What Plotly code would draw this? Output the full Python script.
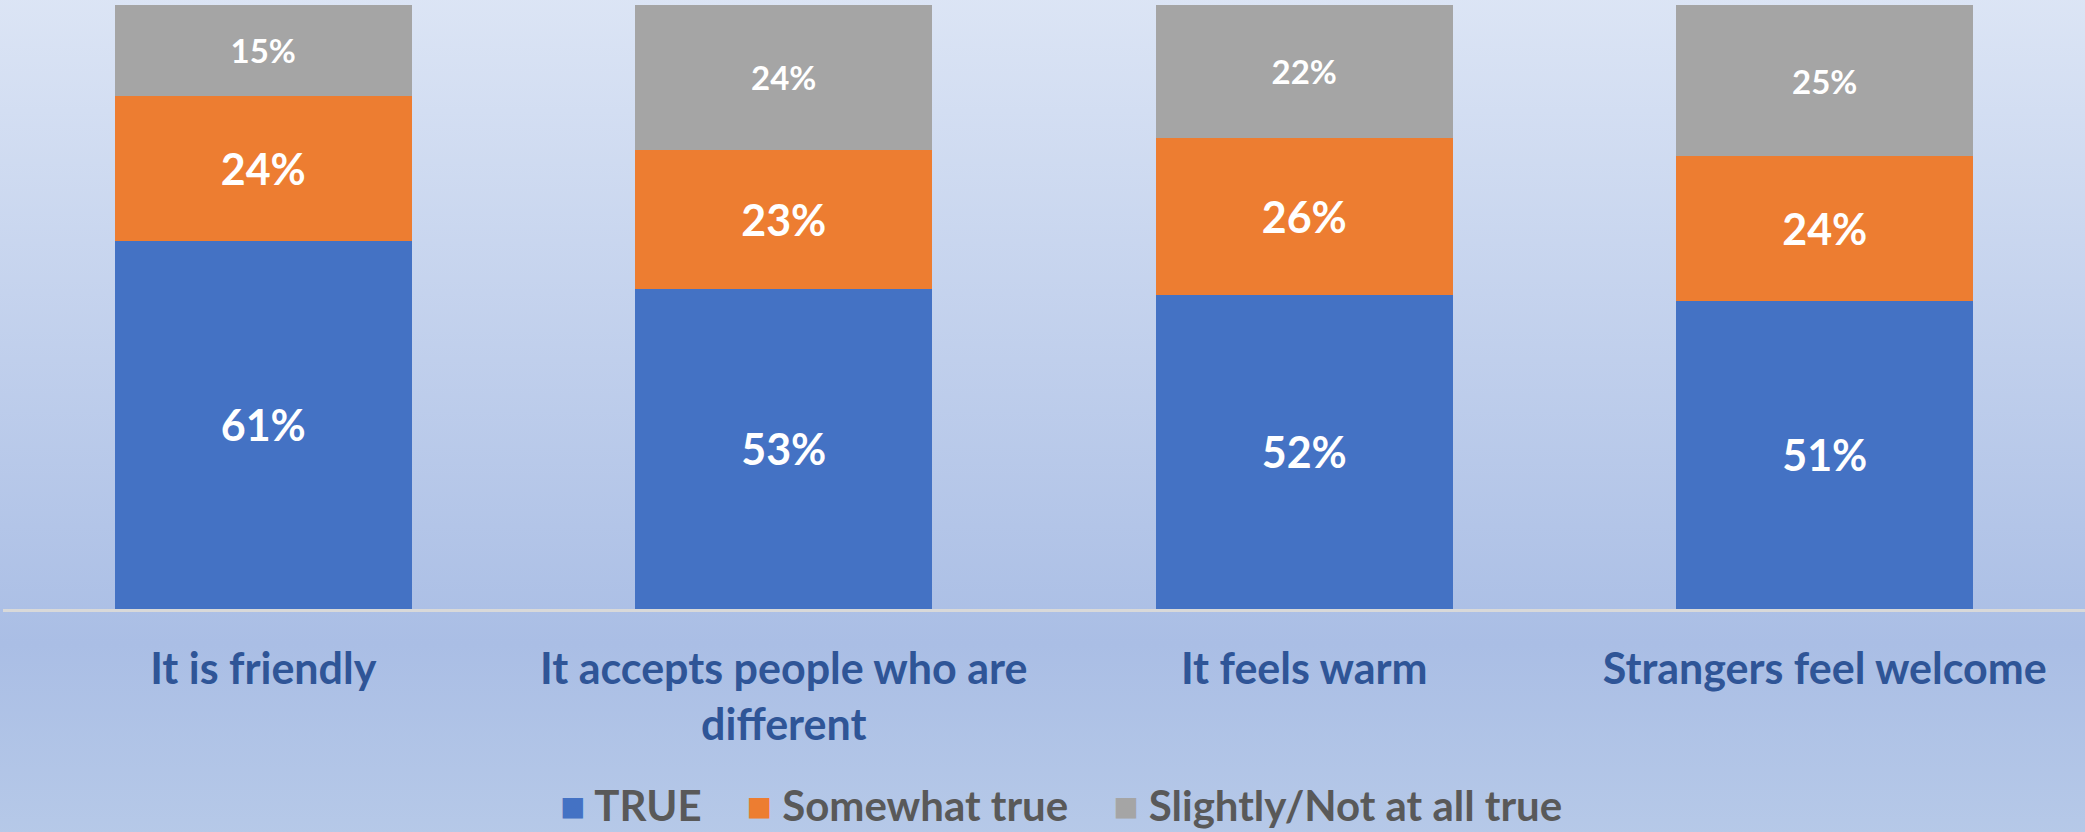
import base64
import plotly.graph_objects as go

# data
categories = ["It is friendly", "It accepts people who are<br>different", "It feels warm", "Strangers feel welcome"]
true_vals = [61, 53, 52, 51]
somewhat_vals = [24, 23, 26, 24]
slightly_vals = [15, 24, 22, 25]
series_names = ["TRUE", "Somewhat true", "Slightly/Not at all true"]
colors = ["#4472C4", "#ED7D31", "#A5A5A5"]

FONT = "Lato"

fig = go.Figure()
for name, vals, col, size in zip(series_names, [true_vals, somewhat_vals, slightly_vals], colors, [43, 43, 33]):
    fig.add_trace(go.Bar(
        x=categories, y=vals, name=name,
        marker=dict(color=col, line=dict(width=0)),
        text=[f"{v}%" for v in vals], textposition="inside", insidetextanchor="middle",
        textfont=dict(color="white", size=size, family=FONT, weight="bold"),
        textangle=0, showlegend=False,
    ))
    # legend entry: a big coloured square glyph in the label, hidden marker
    fig.add_trace(go.Scatter(
        x=[None], y=[None], mode="markers",
        name=f"<span style='color:{col}'>■</span> {name}",
        marker=dict(symbol="square", size=1, color="rgba(0,0,0,0)"),
    ))

# background gradient
svg = ('<svg xmlns="http://www.w3.org/2000/svg" width="10" height="100" preserveAspectRatio="none">'
       '<defs><linearGradient id="g" x1="0" y1="0" x2="0" y2="1">'
       '<stop offset="0" stop-color="#DCE5F5"/><stop offset="0.77" stop-color="#AABEE5"/>'
       '<stop offset="1" stop-color="#B6C9E8"/></linearGradient></defs>'
       '<rect width="10" height="100" fill="url(#g)"/></svg>')
src = "data:image/svg+xml;base64," + base64.b64encode(svg.encode()).decode()

W, H = 2085, 832
ml, mr, mt, mb = 3, 0, 5, 223
pw, ph = W - ml - mr, H - mt - mb

fig.update_layout(
    width=W, height=H,
    barmode="stack", bargap=0.43,
    margin=dict(l=ml, r=mr, t=mt, b=mb, autoexpand=False),
    paper_bgcolor="#BFD0EC", plot_bgcolor="rgba(0,0,0,0)",
    images=[dict(source=src, xref="paper", yref="paper",
                 x=-ml / pw - 0.01, y=1 + mt / ph + 0.01,
                 sizex=W / pw + 0.02, sizey=H / ph + 0.02,
                 sizing="stretch", layer="below", xanchor="left", yanchor="top")],
    xaxis=dict(showline=True, linecolor="#D9D9D9", linewidth=3,
               tickfont=dict(family=FONT, size=43, color="#2F5597", weight="bold"),
               ticks="", ticklabelstandoff=20),
    yaxis=dict(range=[0, 100], visible=False, showgrid=False),
    legend=dict(orientation="h", x=0.5, xanchor="center", y=-0.325, yanchor="middle",
                traceorder="normal", itemwidth=30,
                font=dict(family=FONT, size=42, color="#595959", weight="bold"),
                bgcolor="rgba(0,0,0,0)"),
)

fig.write_html("out.html", config={"displayModeBar": False},
               post_script="document.body.style.margin='0';")
